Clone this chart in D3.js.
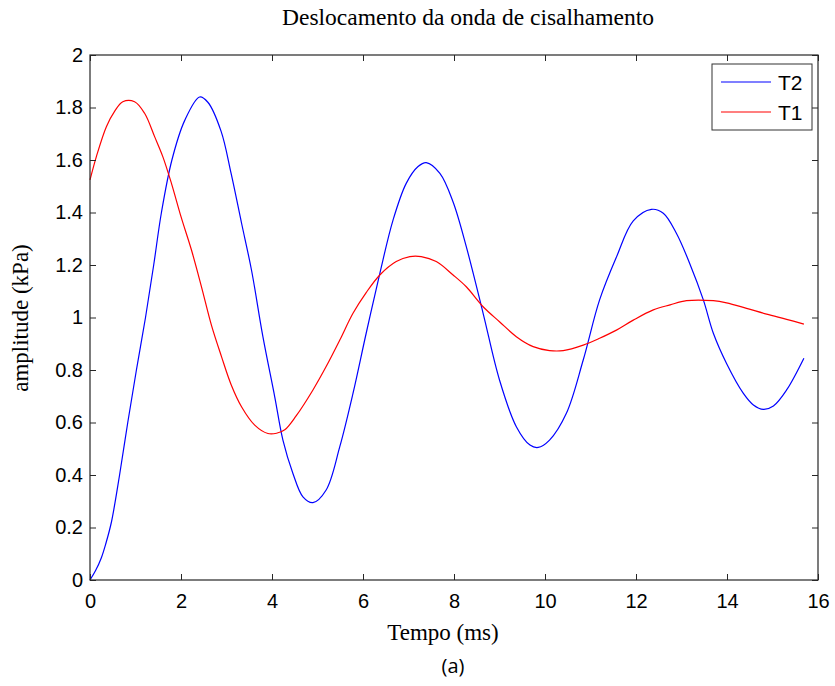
<!DOCTYPE html>
<html>
<head>
<meta charset="utf-8">
<script src="https://cdn.jsdelivr.net/npm/d3@7"></script>
<style>
  html, body { margin: 0; padding: 0; background: #fff; }
  svg { display: block; }
</style>
</head>
<body>
<svg id="chart" width="835" height="686"></svg>
<script>
// Shear-wave displacement, two sensors (time in ms, amplitude in kPa)
const t2Time = [0, 0.12, 0.25, 0.35, 0.47, 0.65, 0.83, 1.02, 1.22, 1.40, 1.57, 1.80, 2.08, 2.41, 2.59, 2.88, 3.10, 3.33, 3.55, 3.80, 4.06, 4.24, 4.46, 4.68, 4.90, 5.19, 5.49, 5.78, 6.07, 6.37, 6.66, 6.95, 7.21, 7.39, 7.69, 7.98, 8.27, 8.64, 9.00, 9.37, 9.67, 9.85, 10.10, 10.47, 10.84, 11.20, 11.57, 11.94, 12.34, 12.60, 12.89, 13.18, 13.48, 13.70, 13.99, 14.36, 14.58, 14.80, 15.02, 15.31, 15.69];
const t2Value = [0, 0.035, 0.085, 0.14, 0.22, 0.4, 0.6, 0.8, 1.0, 1.2, 1.4, 1.6, 1.75, 1.84, 1.82, 1.71, 1.55, 1.36, 1.18, 0.927, 0.698, 0.533, 0.406, 0.317, 0.295, 0.343, 0.508, 0.711, 0.94, 1.168, 1.371, 1.511, 1.575, 1.59, 1.549, 1.44, 1.27, 1.016, 0.762, 0.584, 0.514, 0.505, 0.533, 0.635, 0.838, 1.067, 1.23, 1.368, 1.412, 1.397, 1.32, 1.206, 1.067, 0.94, 0.825, 0.711, 0.667, 0.65, 0.663, 0.724, 0.845];

const t1Time = [0, 0.14, 0.36, 0.54, 0.72, 0.98, 1.20, 1.42, 1.60, 1.79, 2.00, 2.23, 2.45, 2.67, 2.89, 3.10, 3.33, 3.62, 3.91, 4.10, 4.28, 4.53, 4.90, 5.19, 5.49, 5.78, 6.07, 6.37, 6.73, 7.03, 7.28, 7.61, 7.98, 8.27, 8.64, 9.00, 9.37, 9.74, 10.10, 10.40, 10.84, 11.20, 11.57, 11.94, 12.38, 12.75, 13.11, 13.70, 13.99, 14.43, 14.87, 15.31, 15.69];
const t1Value = [1.524, 1.613, 1.727, 1.785, 1.822, 1.822, 1.778, 1.689, 1.613, 1.511, 1.384, 1.257, 1.117, 0.97, 0.851, 0.745, 0.66, 0.59, 0.558, 0.559, 0.572, 0.625, 0.724, 0.813, 0.914, 1.016, 1.095, 1.162, 1.213, 1.232, 1.232, 1.213, 1.162, 1.117, 1.041, 0.984, 0.927, 0.889, 0.874, 0.874, 0.895, 0.921, 0.952, 0.99, 1.029, 1.048, 1.064, 1.064, 1.056, 1.035, 1.013, 0.993, 0.975];

const xTicks = [0, 2, 4, 6, 8, 10, 12, 14, 16];
const yTicks = [0, 0.2, 0.4, 0.6, 0.8, 1, 1.2, 1.4, 1.6, 1.8, 2];

const seriesNames = ["T2", "T1"];
const seriesColors = ["#0000ff", "#ff0000"];

const margin = { left: 90, right: 17, top: 55, bottom: 106 };
const W = 835, H = 686;
const plotW = W - margin.left - margin.right;
const plotH = H - margin.top - margin.bottom;

const svg = d3.select("#chart");
const g = svg.append("g").attr("transform", `translate(${margin.left},${margin.top})`);

const x = d3.scaleLinear().domain([0, 16]).range([0, plotW]);
const y = d3.scaleLinear().domain([0, 2]).range([plotH, 0]);

const series = [
  { name: seriesNames[0], color: seriesColors[0], pts: t2Time.map((t, i) => [t, t2Value[i]]) },
  { name: seriesNames[1], color: seriesColors[1], pts: t1Time.map((t, i) => [t, t1Value[i]]) }
];

const line = d3.line()
  .x(d => x(d[0]))
  .y(d => y(d[1]))
  .curve(d3.curveCatmullRom.alpha(0.5));

// curves
g.selectAll("path.series")
  .data(series)
  .join("path")
  .attr("class", "series")
  .attr("fill", "none")
  .attr("stroke", d => d.color)
  .attr("stroke-width", 1.2)
  .attr("d", d => line(d.pts));

const tickFont = "'Liberation Sans', Arial, sans-serif";
const axisColor = "#262626";

// axes: ticks point inward, labels outside
const xAxis = d3.axisBottom(x).tickValues(xTicks).tickSize(-6).tickPadding(14).tickFormat(d3.format("d"));
const yAxis = d3.axisLeft(y).tickValues(yTicks).tickSize(-6).tickPadding(7).tickFormat(d => d3.format("~g")(d));

const gx = g.append("g").attr("transform", `translate(0,${plotH})`).call(xAxis);
const gy = g.append("g").call(yAxis);
// mirrored ticks on top and right
const gxTop = g.append("g").call(d3.axisTop(x).tickValues(xTicks).tickSize(-6).tickFormat(""));
const gyRight = g.append("g").attr("transform", `translate(${plotW},0)`).call(d3.axisRight(y).tickValues(yTicks).tickSize(-6).tickFormat(""));

[gx, gy, gxTop, gyRight].forEach(a => {
  a.select(".domain").remove();
  a.selectAll(".tick line").attr("stroke", axisColor).attr("stroke-width", 1);
  a.selectAll(".tick text").attr("fill", "#000").style("font-family", tickFont).style("font-size", "20px");
});
gx.selectAll(".tick text").attr("dy", "0.71em");

// frame
g.append("rect")
  .attr("x", 0).attr("y", 0)
  .attr("width", plotW).attr("height", plotH)
  .attr("fill", "none")
  .attr("stroke", axisColor)
  .attr("stroke-width", 1.2);

// legend
const legend = g.append("g").attr("transform", `translate(${plotW - 106},${9})`);
legend.append("rect")
  .attr("width", 100).attr("height", 66)
  .attr("fill", "#fff")
  .attr("stroke", "#333")
  .attr("stroke-width", 1);
series.forEach((s, i) => {
  const yy = 18 + i * 30;
  legend.append("line")
    .attr("x1", 9).attr("x2", 59).attr("y1", yy).attr("y2", yy)
    .attr("stroke", s.color).attr("stroke-width", 1.2);
  legend.append("text")
    .attr("x", 66).attr("y", yy).attr("dy", "0.36em")
    .style("font-family", tickFont).style("font-size", "21px")
    .text(s.name);
});

const serif = "'Liberation Serif', 'Times New Roman', serif";

// title
svg.append("text")
  .attr("x", 468).attr("y", 25)
  .attr("text-anchor", "middle")
  .style("font-family", serif).style("font-size", "23.5px")
  .text("Deslocamento da onda de cisalhamento");

// axis titles
svg.append("text")
  .attr("x", 443).attr("y", 640)
  .attr("text-anchor", "middle")
  .style("font-family", serif).style("font-size", "23px")
  .text("Tempo (ms)");

svg.append("text")
  .attr("transform", `translate(28,318) rotate(-90)`)
  .attr("text-anchor", "middle")
  .style("font-family", serif).style("font-size", "23px")
  .text("amplitude (kPa)");

// panel label
svg.append("text")
  .attr("x", 453).attr("y", 673)
  .attr("text-anchor", "middle")
  .style("font-family", "'Open Sans', 'Noto Sans', sans-serif").style("font-size", "20px")
  .text("(a)");
</script>
</body>
</html>
